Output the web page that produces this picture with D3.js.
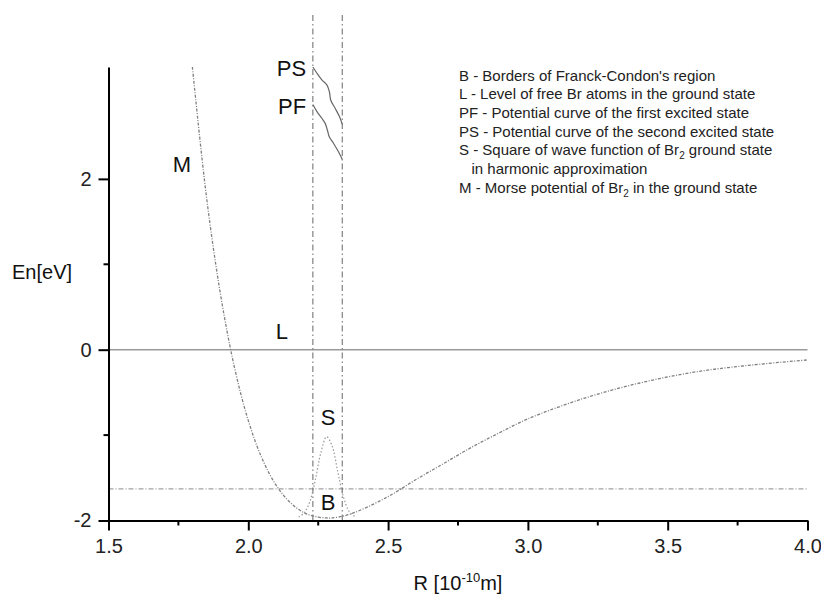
<!DOCTYPE html>
<html>
<head>
<meta charset="utf-8">
<script src="https://cdn.jsdelivr.net/npm/d3@7"></script>
<style>
  body { margin: 0; background: #fff; }
  svg { font-family: "Liberation Sans", Arial, sans-serif; }
</style>
</head>
<body>
<div id="chart"></div>
<script>
// chart values
var morseR = [1.80, 1.85, 1.90, 1.95, 2.00, 2.05, 2.10, 2.15, 2.20, 2.25, 2.28, 2.30, 2.35, 2.40, 2.50, 2.60, 2.70, 2.80, 2.90, 3.00, 3.20, 3.40, 3.60, 3.80, 4.00];
var morseE = [3.31, 1.80, 0.66, -0.20, -0.83, -1.28, -1.59, -1.79, -1.91, -1.96, -1.97, -1.97, -1.94, -1.88, -1.72, -1.52, -1.33, -1.14, -0.97, -0.81, -0.57, -0.39, -0.26, -0.18, -0.12];

var sR = [2.18, 2.20, 2.22, 2.24, 2.26, 2.28, 2.30, 2.32, 2.34, 2.36, 2.38];
var sE = [-1.96, -1.91, -1.78, -1.52, -1.20, -1.02, -1.13, -1.43, -1.72, -1.89, -1.95];

var psR = [2.231, 2.245, 2.263, 2.281, 2.290, 2.295, 2.310, 2.326, 2.336];
var psE = [3.31, 3.24, 3.16, 3.10, 3.02, 2.92, 2.83, 2.73, 2.64];
var pfR = [2.231, 2.245, 2.263, 2.275, 2.283, 2.290, 2.304, 2.322, 2.336];
var pfE = [2.87, 2.79, 2.71, 2.65, 2.57, 2.49, 2.42, 2.32, 2.23];

var borderR = [2.231, 2.336];   // Franck-Condon borders
var levelL = 0;                  // free Br atoms
var levelB = -1.63;              // horizontal border level

var xTicks = [1.5, 2.0, 2.5, 3.0, 3.5, 4.0];
var xMinor = [1.75, 2.25, 2.75, 3.25, 3.75];
var yTicks = [-2, 0, 2];
var yMinor = [-1, 1];

var legendLines = [
  ["B - Borders of Franck-Condon's region"],
  ["L - Level of free Br atoms in the ground state"],
  ["PF - Potential curve of the first excited state"],
  ["PS - Potential curve of the second excited state"],
  ["S - Square of wave function of Br", "2", " ground state"],
  ["   in harmonic approximation"],
  ["M - Morse potential of Br", "2", " in the ground state"]
];

var labels = [
  {t: "PS", r: 2.207, e: 3.21, a: "end"},
  {t: "PF", r: 2.207, e: 2.76, a: "end"},
  {t: "M", r: 1.73, e: 2.08, a: "start"},
  {t: "L", r: 2.098, e: 0.12, a: "start"},
  {t: "S", r: 2.285, e: -0.88, a: "middle"},
  {t: "B", r: 2.285, e: -1.88, a: "middle"}
];

var width = 821, height = 605;
var margin = {left: 108.5, right: 13.5, top: 67, bottom: 84.5};

var svg = d3.select("#chart").append("svg")
    .attr("width", width)
    .attr("height", height);

var x = d3.scaleLinear().domain([1.5, 4.0]).range([margin.left, width - margin.right]);
var y = d3.scaleLinear().domain([-2, 3.31]).range([height - margin.bottom, margin.top]);

var line = d3.line()
    .x(function(d) { return x(d[0]); })
    .y(function(d) { return y(d[1]); });

function pairs(a, b) { return a.map(function(v, i) { return [v, b[i]]; }); }

// zero level line L
svg.append("line")
    .attr("x1", x(1.5)).attr("x2", x(4.0))
    .attr("y1", y(levelL)).attr("y2", y(levelL))
    .attr("stroke", "#9a9a9a").attr("stroke-width", 1.5);

// horizontal border level
svg.append("line")
    .attr("x1", x(1.5)).attr("x2", x(4.0))
    .attr("y1", y(levelB)).attr("y2", y(levelB))
    .attr("stroke", "#8a8a8a").attr("stroke-width", 1)
    .attr("stroke-dasharray", "5,2,1,2");

// vertical Franck-Condon borders
svg.selectAll(".border").data(borderR).enter().append("line")
    .attr("class", "border")
    .attr("x1", function(d) { return x(d); }).attr("x2", function(d) { return x(d); })
    .attr("y1", 15).attr("y2", y(-2))
    .attr("stroke", "#666").attr("stroke-width", 1)
    .attr("stroke-dasharray", "6,3,1.5,3");

// Morse potential M
svg.append("path")
    .datum(pairs(morseR, morseE))
    .attr("d", line.curve(d3.curveCatmullRom))
    .attr("fill", "none").attr("stroke", "#808080").attr("stroke-width", 1.3)
    .attr("stroke-dasharray", "3,1.5,1,1.5");

// square of wave function S
svg.append("path")
    .datum(pairs(sR, sE))
    .attr("d", line.curve(d3.curveCatmullRom))
    .attr("fill", "none").attr("stroke", "#999").attr("stroke-width", 1.2)
    .attr("stroke-dasharray", "1.5,2");

// excited state curves
[pairs(psR, psE), pairs(pfR, pfE)].forEach(function(p) {
  svg.append("path")
      .datum(p)
      .attr("d", line.curve(d3.curveCatmullRom))
      .attr("fill", "none").attr("stroke", "#666").attr("stroke-width", 1.2);
});

// axes
var xAxis = svg.append("g")
    .attr("transform", "translate(0," + y(-2) + ")")
    .call(d3.axisBottom(x).tickValues(xTicks).tickFormat(d3.format(".1f")).tickSize(10).tickSizeOuter(0).tickPadding(8));
xAxis.append("g").selectAll("line").data(xMinor).enter().append("line")
    .attr("x1", function(d) { return x(d); }).attr("x2", function(d) { return x(d); })
    .attr("y1", 0).attr("y2", 5).attr("stroke", "#000").attr("stroke-width", 2);

var yAxis = svg.append("g")
    .attr("transform", "translate(" + x(1.5) + ",0)")
    .call(d3.axisLeft(y).tickValues(yTicks).tickFormat(function(d) { return String(d); }).tickSize(10).tickSizeOuter(0).tickPadding(7));
yAxis.append("g").selectAll("line").data(yMinor).enter().append("line")
    .attr("y1", function(d) { return y(d); }).attr("y2", function(d) { return y(d); })
    .attr("x1", 0).attr("x2", -5).attr("stroke", "#000").attr("stroke-width", 2);

svg.selectAll(".domain").attr("stroke", "#000").attr("stroke-width", 2);
svg.selectAll(".tick line").attr("stroke", "#000").attr("stroke-width", 2);
svg.selectAll(".tick text").attr("font-size", 20).attr("fill", "#222")
    .attr("font-family", "Liberation Sans, Arial, sans-serif");

// axis titles
svg.append("text")
    .attr("x", 12).attr("y", 279)
    .attr("font-size", 20).attr("fill", "#111")
    .text("En[eV]");

var xt = svg.append("text")
    .attr("x", (x(1.5) + x(4.0)) / 2).attr("y", 590)
    .attr("text-anchor", "middle")
    .attr("font-size", 20).attr("fill", "#111");
xt.append("tspan").text("R [10");
xt.append("tspan").attr("dy", -8).attr("font-size", 13).text("-10");
xt.append("tspan").attr("dy", 8).text("m]");

// curve labels
svg.selectAll(".lbl").data(labels).enter().append("text")
    .attr("class", "lbl")
    .attr("x", function(d) { return x(d.r); })
    .attr("y", function(d) { return y(d.e); })
    .attr("text-anchor", function(d) { return d.a; })
    .attr("font-size", 22).attr("fill", "#111")
    .text(function(d) { return d.t; });

// legend
var leg = svg.append("g").attr("transform", "translate(459,80.5)");
legendLines.forEach(function(parts, i) {
  var t = leg.append("text")
      .attr("x", 0).attr("y", i * 18.7)
      .attr("font-size", 15).attr("fill", "#222")
      .attr("xml:space", "preserve");
  t.append("tspan").text(parts[0]);
  if (parts.length > 1) {
    t.append("tspan").attr("dy", 4).attr("font-size", 10).text(parts[1]);
    t.append("tspan").attr("dy", -4).text(parts[2]);
  }
});
</script>
</body>
</html>
